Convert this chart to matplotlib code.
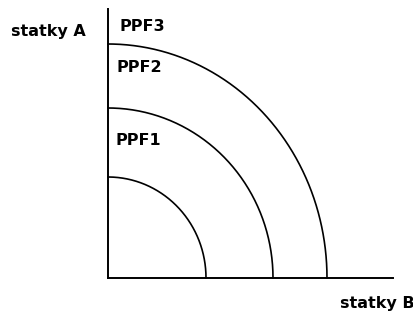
import numpy as np
import matplotlib
matplotlib.use("Agg")
import matplotlib.pyplot as plt

plt.rcParams["font.family"] = ["DejaVu Sans"]

# PPF curves: intercepts on the B (horizontal) and A (vertical) axes
ppf_names = ["PPF1", "PPF2", "PPF3"]
intercept_b = [98, 165, 219]
intercept_a = [101, 170, 234]
# curve labels: x offset from the A axis and baseline height
label_names = ["PPF1", "PPF2", "PPF3"]
label_x = [8, 9, 12]
label_heights = [133, 206, 247]

W, H = 414, 317
fig = plt.figure(figsize=(W / 100, H / 100), dpi=100)
x0, y0, x1, y1 = 108, 278, 393, 9
ax = fig.add_axes([x0 / W, (H - y0) / H, (x1 - x0) / W, (y0 - y1) / H])
ax.set_xlim(0, x1 - x0)
ax.set_ylim(0, y0 - y1)

t = np.linspace(0, np.pi / 2, 200)
for rb, ra in zip(intercept_b, intercept_a):
    ax.plot(rb * np.cos(t), ra * np.sin(t), color="black", linewidth=1.2,
            clip_on=False)

for name, lx, h in zip(label_names, label_x, label_heights):
    ax.text(lx, h, name, fontsize=11.5, fontweight="bold", ha="left",
            va="baseline")

for s in ["top", "right"]:
    ax.spines[s].set_visible(False)
for s in ["left", "bottom"]:
    ax.spines[s].set_linewidth(1.4)
ax.set_xticks([])
ax.set_yticks([])

fig.text(11 / W, 1 - 36 / H, "statky A", fontsize=11.5, fontweight="bold",
         ha="left", va="baseline")
fig.text(340 / W, 1 - 308 / H, "statky B", fontsize=11.5, fontweight="bold",
         ha="left", va="baseline")

fig.savefig("out.png", dpi=100)
